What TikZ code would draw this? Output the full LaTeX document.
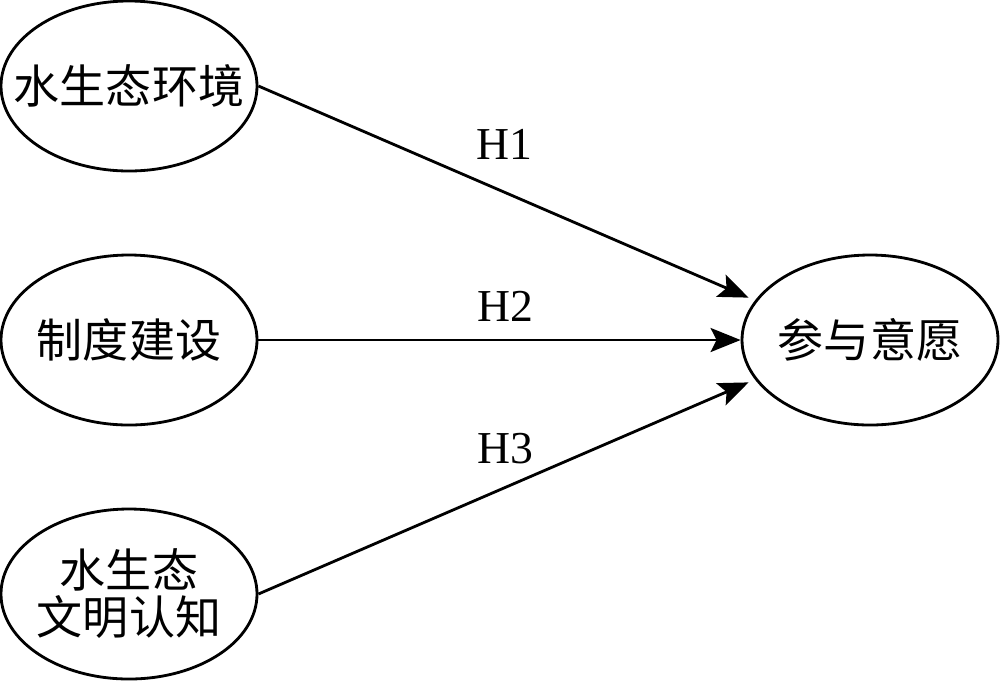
\documentclass[tikz,border=0pt]{standalone}
\usepackage{fontspec}
\setmainfont{Liberation Serif}
\newfontfamily\cjk{Noto Sans CJK SC}
\usepackage{tikz}
\usetikzlibrary{arrows.meta,shapes,positioning}

\begin{document}
\begin{tikzpicture}[x=1cm,y=1cm]

  \tikzset{VarStyle/.style =
	{ellipse, draw, line width=0.8pt,
	minimum width=2.56cm, minimum height=1.70cm,
	inner xsep=-0.3cm, inner ysep=0pt, align=center,
	font=\cjk\fontsize{13.1pt}{13.4pt}\selectfont}}
  \tikzset{PathStyle/.style =
	{line width=0.8pt,
	-{Stealth[length=3mm,width=2.4mm,inset=0.6mm]}}}
  \tikzset{HypStyle/.style =
	{font=\fontsize{13pt}{15pt}\selectfont, inner sep=0pt}}
  \useasboundingbox (0,0) rectangle (10,-6.81);

  \node[VarStyle] (env) at (1.29,-0.86) {水生态环境};
  \node[VarStyle] (sys) at (1.29,-3.40) {制度建设};
  \node[VarStyle] (cog) at (1.29,-5.94) {水生态\\文明认知};
  \node[VarStyle] (will) at (8.70,-3.40) {参与意愿};

  \draw[PathStyle, shorten >=0.7mm] (env.east) -- (will.161);
  \draw[PathStyle] (sys.east) -- (will.west);
  \draw[PathStyle, shorten >=0.7mm] (cog.east) -- (will.199);

  \node[HypStyle] (h1) at (5.04,-1.44) {H1};
  \node[HypStyle] (h2) at (5.05,-3.06) {H2};
  \node[HypStyle] (h3) at (5.05,-4.49) {H3};

\end{tikzpicture}
\end{document}
